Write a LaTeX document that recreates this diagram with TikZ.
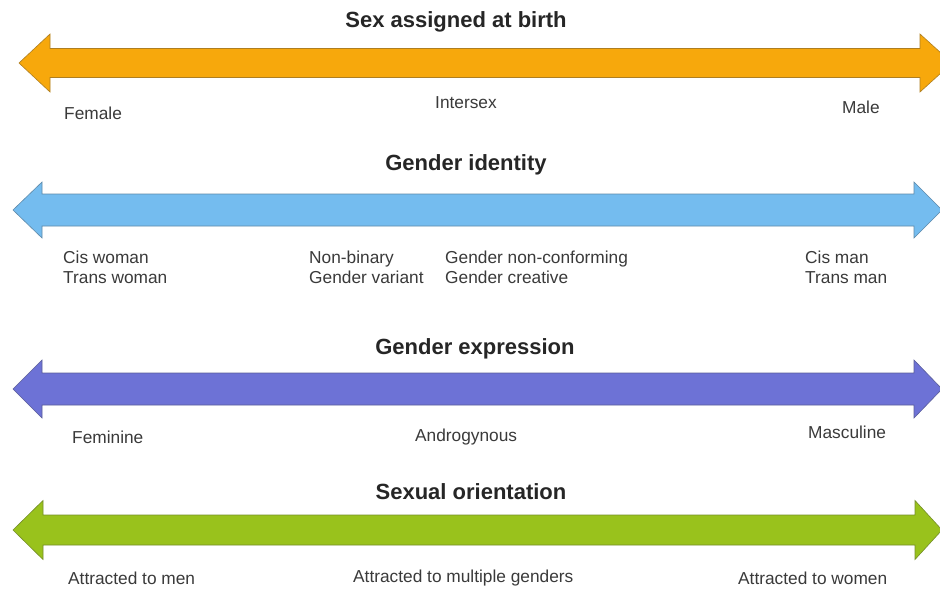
\documentclass[tikz,border=0pt]{standalone}
\usepackage{fontspec}
\setmainfont{Liberation Sans}
\definecolor{bandorange}{HTML}{F7A80C}
\definecolor{bandblue}{HTML}{74BCEF}
\definecolor{bandpurple}{HTML}{6D72D6}
\definecolor{bandgreen}{HTML}{99C21C}
\definecolor{inkgray}{HTML}{3A3A3A}
\tikzset{
  band/.style={fill=#1, draw=#1!75!black!80!gray, line width=0.6pt, line join=miter},
  axistitle/.style={font=\fontsize{22}{26}\selectfont\bfseries, text=black!85, inner sep=0pt},
  pole/.style={font=\fontsize{17.3}{20}\selectfont, text=inkgray, inner sep=0pt, anchor=west, align=left}
}
\begin{document}
\begin{tikzpicture}[x=1pt, y=-1pt]
  \useasboundingbox[fill=white] (0,0) rectangle (940,589);

  % === 四条双向箭头：中心 y / 箭杆半高 / 箭头半高 / 左尖 / 左底 / 右底 / 右尖 / 颜色 ===
  \foreach \yc/\sh/\hh/\lt/\lb/\rb/\rt/\col in {
      63/14.5/29/19/50/920/952/bandorange,
      210/16/28/13/42/914/942/bandblue,
      389/16/29/13/42/914/942/bandpurple,
      530/15/29.5/13/43/915/942/bandgreen} {
    \draw[band=\col] (\lt,\yc) -- (\lb,\yc-\hh) -- (\lb,\yc-\sh) -- (\rb,\yc-\sh)
      -- (\rb,\yc-\hh) -- (\rt,\yc) -- (\rb,\yc+\hh) -- (\rb,\yc+\sh)
      -- (\lb,\yc+\sh) -- (\lb,\yc+\hh) -- cycle;
  }

  % === 标题 ===
  \node[axistitle] (sexT)    at (456,22)  {Sex assigned at birth};
  \node[axistitle] (identT)  at (466,165) {Gender identity};
  \node[axistitle] (exprT)   at (475,349) {Gender expression};
  \node[axistitle] (orientT) at (471,492) {Sexual orientation};

  % === 第一行：出生性别 ===
  \node[pole] (female)   at (64,113)  {Female};
  \node[pole] (intersex) at (435,103) {Intersex};
  \node[pole] (male)     at (842,107) {Male};

  % === 第二行：性别认同 ===
  \node[pole] (woman)    at (63,267)  {Cis woman\\Trans woman};
  \node[pole] (nonbin)   at (309,267) {Non-binary\\Gender variant};
  \node[pole] (noncon)   at (445,267) {Gender non-conforming\\Gender creative};
  \node[pole] (man)      at (805,267) {Cis man\\Trans man};

  % === 第三行：性别表达 ===
  \node[pole] (feminine) at (72,437)  {Feminine};
  \node[pole] (androg)   at (415,437) {Androgynous};
  \node[pole] (mascul)   at (808,432) {Masculine};

  % === 第四行：性取向 ===
  \node[pole] (tomen)    at (68,578)  {Attracted to men};
  \node[pole] (tomulti)  at (353,578) {Attracted to multiple genders};
  \node[pole] (towomen)  at (738,578) {Attracted to women};
\end{tikzpicture}
\end{document}
